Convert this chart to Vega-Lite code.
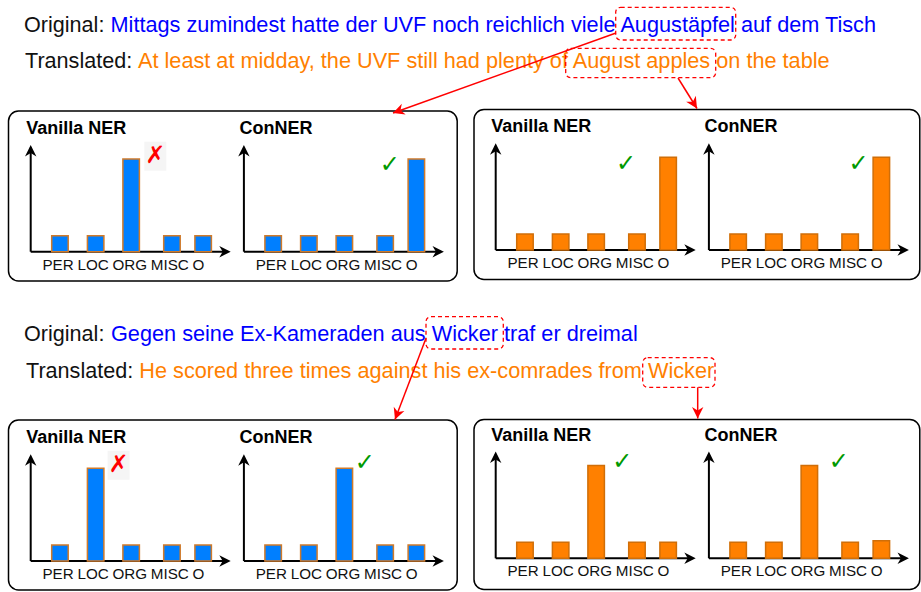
{
  "$schema": "https://vega.github.io/schema/vega-lite/v6.json",
  "width": 921,
  "height": 592,
  "autosize": {"type": "fit", "contains": "padding"},
  "padding": 0,
  "background": "white",
  "config": {"view": {"stroke": null}, "axis": {"disable": true}, "legend": {"disable": true}},
  "datasets": {
    "sentences": [
      {"ex": 1, "lang": "Original", "label": "Original:", "text": "Mittags zumindest hatte der UVF noch reichlich viele Augustäpfel auf dem Tisch", "entity": "Augustäpfel"},
      {"ex": 1, "lang": "Translated", "label": "Translated:", "text": "At least at midday, the UVF still had plenty of August apples on the table", "entity": "August apples"},
      {"ex": 2, "lang": "Original", "label": "Original:", "text": "Gegen seine Ex-Kameraden aus Wicker traf er dreimal", "entity": "Wicker"},
      {"ex": 2, "lang": "Translated", "label": "Translated:", "text": "He scored three times against his ex-comrades from Wicker", "entity": "Wicker"}
    ],
    "panels": [
      {"ex": 1, "lang": "Original", "model": "Vanilla NER", "verdict": "✗"},
      {"ex": 1, "lang": "Original", "model": "ConNER", "verdict": "✓"},
      {"ex": 1, "lang": "Translated", "model": "Vanilla NER", "verdict": "✓"},
      {"ex": 1, "lang": "Translated", "model": "ConNER", "verdict": "✓"},
      {"ex": 2, "lang": "Original", "model": "Vanilla NER", "verdict": "✗"},
      {"ex": 2, "lang": "Original", "model": "ConNER", "verdict": "✓"},
      {"ex": 2, "lang": "Translated", "model": "Vanilla NER", "verdict": "✓"},
      {"ex": 2, "lang": "Translated", "model": "ConNER", "verdict": "✓"}
    ],
    "bars": [
      {"ex": 1, "lang": "Original", "model": "Vanilla NER", "cat": "PER", "value": 1},
      {"ex": 1, "lang": "Original", "model": "Vanilla NER", "cat": "LOC", "value": 1},
      {"ex": 1, "lang": "Original", "model": "Vanilla NER", "cat": "ORG", "value": 5.8},
      {"ex": 1, "lang": "Original", "model": "Vanilla NER", "cat": "MISC", "value": 1},
      {"ex": 1, "lang": "Original", "model": "Vanilla NER", "cat": "O", "value": 1},
      {"ex": 1, "lang": "Original", "model": "ConNER", "cat": "PER", "value": 1},
      {"ex": 1, "lang": "Original", "model": "ConNER", "cat": "LOC", "value": 1},
      {"ex": 1, "lang": "Original", "model": "ConNER", "cat": "ORG", "value": 1},
      {"ex": 1, "lang": "Original", "model": "ConNER", "cat": "MISC", "value": 1},
      {"ex": 1, "lang": "Original", "model": "ConNER", "cat": "O", "value": 5.8},
      {"ex": 1, "lang": "Translated", "model": "Vanilla NER", "cat": "PER", "value": 1},
      {"ex": 1, "lang": "Translated", "model": "Vanilla NER", "cat": "LOC", "value": 1},
      {"ex": 1, "lang": "Translated", "model": "Vanilla NER", "cat": "ORG", "value": 1},
      {"ex": 1, "lang": "Translated", "model": "Vanilla NER", "cat": "MISC", "value": 1},
      {"ex": 1, "lang": "Translated", "model": "Vanilla NER", "cat": "O", "value": 5.8},
      {"ex": 1, "lang": "Translated", "model": "ConNER", "cat": "PER", "value": 1},
      {"ex": 1, "lang": "Translated", "model": "ConNER", "cat": "LOC", "value": 1},
      {"ex": 1, "lang": "Translated", "model": "ConNER", "cat": "ORG", "value": 1},
      {"ex": 1, "lang": "Translated", "model": "ConNER", "cat": "MISC", "value": 1},
      {"ex": 1, "lang": "Translated", "model": "ConNER", "cat": "O", "value": 5.8},
      {"ex": 2, "lang": "Original", "model": "Vanilla NER", "cat": "PER", "value": 1},
      {"ex": 2, "lang": "Original", "model": "Vanilla NER", "cat": "LOC", "value": 5.8},
      {"ex": 2, "lang": "Original", "model": "Vanilla NER", "cat": "ORG", "value": 1},
      {"ex": 2, "lang": "Original", "model": "Vanilla NER", "cat": "MISC", "value": 1},
      {"ex": 2, "lang": "Original", "model": "Vanilla NER", "cat": "O", "value": 1},
      {"ex": 2, "lang": "Original", "model": "ConNER", "cat": "PER", "value": 1},
      {"ex": 2, "lang": "Original", "model": "ConNER", "cat": "LOC", "value": 1},
      {"ex": 2, "lang": "Original", "model": "ConNER", "cat": "ORG", "value": 5.8},
      {"ex": 2, "lang": "Original", "model": "ConNER", "cat": "MISC", "value": 1},
      {"ex": 2, "lang": "Original", "model": "ConNER", "cat": "O", "value": 1},
      {"ex": 2, "lang": "Translated", "model": "Vanilla NER", "cat": "PER", "value": 1},
      {"ex": 2, "lang": "Translated", "model": "Vanilla NER", "cat": "LOC", "value": 1},
      {"ex": 2, "lang": "Translated", "model": "Vanilla NER", "cat": "ORG", "value": 5.8},
      {"ex": 2, "lang": "Translated", "model": "Vanilla NER", "cat": "MISC", "value": 1},
      {"ex": 2, "lang": "Translated", "model": "Vanilla NER", "cat": "O", "value": 1},
      {"ex": 2, "lang": "Translated", "model": "ConNER", "cat": "PER", "value": 1},
      {"ex": 2, "lang": "Translated", "model": "ConNER", "cat": "LOC", "value": 1},
      {"ex": 2, "lang": "Translated", "model": "ConNER", "cat": "ORG", "value": 5.8},
      {"ex": 2, "lang": "Translated", "model": "ConNER", "cat": "MISC", "value": 1},
      {"ex": 2, "lang": "Translated", "model": "ConNER", "cat": "O", "value": 1.1}
    ]
  },
  "layer": [
    {
      "data": {"name": "sentences"},
      "transform": [
        {"calculate": "(datum.ex-1)*2 + (datum.lang=='Original'?0:1)", "as": "si"},
        {"calculate": "datum.lang=='Original' ? 8.5 : 474", "as": "bx1"},
        {"calculate": "datum.lang=='Original' ? 457.2 : 919.8", "as": "bx2"},
        {"calculate": "[111,109.5,420,419.5][datum.si]", "as": "by1"},
        {"calculate": "datum.by1 + 170", "as": "by2"}
      ],
      "mark": {"type": "rect", "filled": false, "stroke": "#000000", "strokeWidth": 1.5, "cornerRadius": 10},
      "encoding": {
        "x": {"field": "bx1", "type": "quantitative", "scale": {"domain": [0, 921], "nice": false, "zero": false}, "axis": null},
        "x2": {"field": "bx2"},
        "y": {"field": "by1", "type": "quantitative", "scale": {"domain": [0, 592], "reverse": true, "nice": false, "zero": false}, "axis": null},
        "y2": {"field": "by2"}
      }
    },
    {
      "data": {"name": "sentences"},
      "transform": [
        {"calculate": "(datum.ex-1)*2 + (datum.lang=='Original'?0:1)", "as": "si"},
        {"calculate": "[31.5,68,341,378.3][datum.si]", "as": "ty"},
        {"calculate": "[24,25,24,26][datum.si]", "as": "lx"}
      ],
      "mark": {"type": "text", "align": "left", "baseline": "alphabetic", "font": "Liberation Sans", "fontSize": 21.6, "color": "#111111"},
      "encoding": {
        "x": {"field": "lx", "type": "quantitative", "scale": {"domain": [0, 921], "nice": false, "zero": false}, "axis": null},
        "y": {"field": "ty", "type": "quantitative", "scale": {"domain": [0, 592], "reverse": true, "nice": false, "zero": false}, "axis": null},
        "text": {"field": "label"}
      }
    },
    {
      "data": {"name": "sentences"},
      "transform": [
        {"calculate": "(datum.ex-1)*2 + (datum.lang=='Original'?0:1)", "as": "si"},
        {"calculate": "[31.5,68,341,378.3][datum.si]", "as": "ty"},
        {"calculate": "[110.5,138,111,139.3][datum.si]", "as": "sx"}
      ],
      "mark": {"type": "text", "align": "left", "baseline": "alphabetic", "font": "Liberation Sans", "fontSize": 21.7},
      "encoding": {
        "x": {"field": "sx", "type": "quantitative", "scale": {"domain": [0, 921], "nice": false, "zero": false}, "axis": null},
        "y": {"field": "ty", "type": "quantitative", "scale": {"domain": [0, 592], "reverse": true, "nice": false, "zero": false}, "axis": null},
        "text": {"field": "text"},
        "color": {"field": "lang", "type": "nominal", "scale": {"domain": ["Original", "Translated"], "range": ["#0000FF", "#FF8000"]}, "legend": null}
      }
    },
    {
      "data": {"name": "sentences"},
      "transform": [
        {"calculate": "(datum.ex-1)*2 + (datum.lang=='Original'?0:1)", "as": "si"},
        {"calculate": "[615.7,565.7,426,642.7][datum.si]", "as": "ex1"},
        {"calculate": "[735.7,715.7,503.3,715][datum.si]", "as": "ex2"},
        {"calculate": "[7.3,48.3,316.7,357.7][datum.si]", "as": "ey1"},
        {"calculate": "[40,77.7,349,387.3][datum.si]", "as": "ey2"}
      ],
      "mark": {"type": "rect", "filled": false, "stroke": "#FF0000", "strokeWidth": 1.3, "strokeDash": [4, 3], "cornerRadius": 5},
      "encoding": {
        "x": {"field": "ex1", "type": "quantitative", "scale": {"domain": [0, 921], "nice": false, "zero": false}, "axis": null},
        "x2": {"field": "ex2"},
        "y": {"field": "ey1", "type": "quantitative", "scale": {"domain": [0, 592], "reverse": true, "nice": false, "zero": false}, "axis": null},
        "y2": {"field": "ey2"}
      }
    },
    {
      "data": {"name": "sentences"},
      "transform": [
        {"calculate": "(datum.ex-1)*2 + (datum.lang=='Original'?0:1)", "as": "si"},
        {"calculate": "[616,678,426,697.7][datum.si]", "as": "ax1"},
        {"calculate": "[33,78,338.3,387.3][datum.si]", "as": "ay1"},
        {"calculate": "[393,697,395,697.7][datum.si]", "as": "ax2"},
        {"calculate": "[113,108.5,419.5,418.5][datum.si]", "as": "ay2"}
      ],
      "mark": {"type": "rule", "stroke": "#FF0000", "strokeWidth": 1.5},
      "encoding": {
        "x": {"field": "ax1", "type": "quantitative", "scale": {"domain": [0, 921], "nice": false, "zero": false}, "axis": null},
        "x2": {"field": "ax2"},
        "y": {"field": "ay1", "type": "quantitative", "scale": {"domain": [0, 592], "reverse": true, "nice": false, "zero": false}, "axis": null},
        "y2": {"field": "ay2"}
      }
    },
    {
      "data": {"name": "sentences"},
      "transform": [
        {"calculate": "(datum.ex-1)*2 + (datum.lang=='Original'?0:1)", "as": "si"},
        {"calculate": "[616,678,426,697.7][datum.si]", "as": "ax1"},
        {"calculate": "[33,78,338.3,387.3][datum.si]", "as": "ay1"},
        {"calculate": "[393,697,395,697.7][datum.si]", "as": "ax2"},
        {"calculate": "[113,108.5,419.5,418.5][datum.si]", "as": "ay2"},
        {"calculate": "atan2(datum.ay2-datum.ay1, datum.ax2-datum.ax1)*180/PI", "as": "ang"}
      ],
      "mark": {"type": "point", "shape": "M0,0L-2,-1L-1.4,0L-2,1Z", "filled": true, "fill": "#FF0000", "opacity": 1, "size": 130, "strokeWidth": 0},
      "encoding": {
        "x": {"field": "ax2", "type": "quantitative", "scale": {"domain": [0, 921], "nice": false, "zero": false}, "axis": null},
        "y": {"field": "ay2", "type": "quantitative", "scale": {"domain": [0, 592], "reverse": true, "nice": false, "zero": false}, "axis": null},
        "angle": {"field": "ang", "type": "quantitative", "scale": null}
      }
    },
    {
      "data": {"name": "panels"},
      "transform": [
        {"calculate": "(datum.lang=='Original'?30.7:495.7) + (datum.model=='ConNER'?213.2:0)", "as": "px0"},
        {"calculate": "datum.ex==1 ? (datum.lang=='Original'?251.7:250) : (datum.lang=='Original'?561:558.3)", "as": "py0"},
        {"calculate": "datum.py0 - 104", "as": "ytop"}
      ],
      "mark": {"type": "rule", "stroke": "#000000", "strokeWidth": 2},
      "encoding": {
        "x": {"field": "px0", "type": "quantitative", "scale": {"domain": [0, 921], "nice": false, "zero": false}, "axis": null},
        "y": {"field": "py0", "type": "quantitative", "scale": {"domain": [0, 592], "reverse": true, "nice": false, "zero": false}, "axis": null},
        "y2": {"field": "ytop"}
      }
    },
    {
      "data": {"name": "panels"},
      "transform": [
        {"calculate": "(datum.lang=='Original'?30.7:495.7) + (datum.model=='ConNER'?213.2:0)", "as": "px0"},
        {"calculate": "datum.ex==1 ? (datum.lang=='Original'?251.7:250) : (datum.lang=='Original'?561:558.3)", "as": "py0"},
        {"calculate": "datum.px0 + 197", "as": "xend"}
      ],
      "mark": {"type": "rule", "stroke": "#000000", "strokeWidth": 2},
      "encoding": {
        "x": {"field": "px0", "type": "quantitative", "scale": {"domain": [0, 921], "nice": false, "zero": false}, "axis": null},
        "x2": {"field": "xend"},
        "y": {"field": "py0", "type": "quantitative", "scale": {"domain": [0, 592], "reverse": true, "nice": false, "zero": false}, "axis": null}
      }
    },
    {
      "data": {"name": "panels"},
      "transform": [
        {"calculate": "(datum.lang=='Original'?30.7:495.7) + (datum.model=='ConNER'?213.2:0)", "as": "px0"},
        {"calculate": "datum.ex==1 ? (datum.lang=='Original'?251.7:250) : (datum.lang=='Original'?561:558.3)", "as": "py0"},
        {"calculate": "datum.py0 - 106.7", "as": "ytip"}
      ],
      "mark": {"type": "point", "shape": "M0,0L-2,-1L-1.4,0L-2,1Z", "filled": true, "fill": "#000000", "opacity": 1, "size": 130, "strokeWidth": 0, "angle": 270},
      "encoding": {
        "x": {"field": "px0", "type": "quantitative", "scale": {"domain": [0, 921], "nice": false, "zero": false}, "axis": null},
        "y": {"field": "ytip", "type": "quantitative", "scale": {"domain": [0, 592], "reverse": true, "nice": false, "zero": false}, "axis": null}
      }
    },
    {
      "data": {"name": "panels"},
      "transform": [
        {"calculate": "(datum.lang=='Original'?30.7:495.7) + (datum.model=='ConNER'?213.2:0)", "as": "px0"},
        {"calculate": "datum.ex==1 ? (datum.lang=='Original'?251.7:250) : (datum.lang=='Original'?561:558.3)", "as": "py0"},
        {"calculate": "datum.px0 + 200", "as": "xtip"}
      ],
      "mark": {"type": "point", "shape": "M0,0L-2,-1L-1.4,0L-2,1Z", "filled": true, "fill": "#000000", "opacity": 1, "size": 130, "strokeWidth": 0},
      "encoding": {
        "x": {"field": "xtip", "type": "quantitative", "scale": {"domain": [0, 921], "nice": false, "zero": false}, "axis": null},
        "y": {"field": "py0", "type": "quantitative", "scale": {"domain": [0, 592], "reverse": true, "nice": false, "zero": false}, "axis": null}
      }
    },
    {
      "data": {"name": "panels"},
      "transform": [
        {"calculate": "(datum.lang=='Original'?30.7:495.7) + (datum.model=='ConNER'?213.2:0)", "as": "px0"},
        {"calculate": "datum.ex==1 ? (datum.lang=='Original'?251.7:250) : (datum.lang=='Original'?561:558.3)", "as": "py0"},
        {"calculate": "datum.px0 - 4.5", "as": "tx"},
        {"calculate": "datum.py0 - 117.8", "as": "ty"}
      ],
      "mark": {"type": "text", "align": "left", "baseline": "alphabetic", "font": "Liberation Sans", "fontSize": 18, "fontWeight": "bold", "color": "#000000"},
      "encoding": {
        "x": {"field": "tx", "type": "quantitative", "scale": {"domain": [0, 921], "nice": false, "zero": false}, "axis": null},
        "y": {"field": "ty", "type": "quantitative", "scale": {"domain": [0, 592], "reverse": true, "nice": false, "zero": false}, "axis": null},
        "text": {"field": "model"}
      }
    },
    {
      "data": {"name": "bars"},
      "transform": [
        {"calculate": "(datum.lang=='Original'?30.7:495.7) + (datum.model=='ConNER'?213.2:0)", "as": "px0"},
        {"calculate": "datum.ex==1 ? (datum.lang=='Original'?251.7:250) : (datum.lang=='Original'?561:558.3)", "as": "py0"},
        {"calculate": "indexof(['PER','LOC','ORG','MISC','O'], datum.cat)", "as": "ci"},
        {"calculate": "datum.px0 + [21,56.7,92.2,133,164.2][datum.ci]", "as": "bx"},
        {"calculate": "datum.bx + 16.5", "as": "bx2"},
        {"calculate": "datum.py0 - datum.value*16", "as": "by"}
      ],
      "mark": {"type": "rect", "strokeWidth": 1.5},
      "encoding": {
        "x": {"field": "bx", "type": "quantitative", "scale": {"domain": [0, 921], "nice": false, "zero": false}, "axis": null},
        "x2": {"field": "bx2"},
        "y": {"field": "py0", "type": "quantitative", "scale": {"domain": [0, 592], "reverse": true, "nice": false, "zero": false}, "axis": null},
        "y2": {"field": "by"},
        "fill": {"field": "lang", "type": "nominal", "scale": {"domain": ["Original", "Translated"], "range": ["#007FFF", "#FF8000"]}, "legend": null},
        "stroke": {"field": "lang", "type": "nominal", "scale": {"domain": ["Original", "Translated"], "range": ["#D07A2A", "#D06E08"]}, "legend": null}
      }
    },
    {
      "data": {"name": "bars"},
      "transform": [
        {"calculate": "(datum.lang=='Original'?30.7:495.7) + (datum.model=='ConNER'?213.2:0)", "as": "px0"},
        {"calculate": "datum.ex==1 ? (datum.lang=='Original'?251.7:250) : (datum.lang=='Original'?561:558.3)", "as": "py0"},
        {"calculate": "indexof(['PER','LOC','ORG','MISC','O'], datum.cat)", "as": "ci"},
        {"calculate": "datum.px0 + [27.4,62.4,99.1,139.1,167.8][datum.ci]", "as": "lx"},
        {"calculate": "datum.py0 + 18", "as": "ly"}
      ],
      "mark": {"type": "text", "align": "center", "baseline": "alphabetic", "font": "Liberation Sans", "fontSize": 15.2, "color": "#111111"},
      "encoding": {
        "x": {"field": "lx", "type": "quantitative", "scale": {"domain": [0, 921], "nice": false, "zero": false}, "axis": null},
        "y": {"field": "ly", "type": "quantitative", "scale": {"domain": [0, 592], "reverse": true, "nice": false, "zero": false}, "axis": null},
        "text": {"field": "cat"}
      }
    },
    {
      "data": {"name": "panels"},
      "transform": [
        {"filter": "datum.verdict == '✗'"},
        {"calculate": "(datum.ex-1)*4 + (datum.lang=='Original'?0:2) + (datum.model=='ConNER'?1:0)", "as": "pi"},
        {"calculate": "(datum.lang=='Original'?30.7:495.7) + (datum.model=='ConNER'?213.2:0)", "as": "px0"},
        {"calculate": "datum.ex==1 ? (datum.lang=='Original'?251.7:250) : (datum.lang=='Original'?561:558.3)", "as": "py0"},
        {"calculate": "datum.px0 + [124.6,146,130.3,149.6,87.9,121,126.6,129.8][datum.pi]", "as": "vx"},
        {"calculate": "datum.py0 + [-95.5,-86.7,-86,-86,-95.7,-97.7,-96,-96][datum.pi]", "as": "vy"},
        {"calculate": "datum.vx - 11", "as": "rx1"},
        {"calculate": "datum.vx + 11", "as": "rx2"},
        {"calculate": "datum.vy - 14.5", "as": "ry1"},
        {"calculate": "datum.vy + 14.5", "as": "ry2"}
      ],
      "mark": {"type": "rect", "fill": "#F5F5F5", "strokeWidth": 0},
      "encoding": {
        "x": {"field": "rx1", "type": "quantitative", "scale": {"domain": [0, 921], "nice": false, "zero": false}, "axis": null},
        "x2": {"field": "rx2"},
        "y": {"field": "ry1", "type": "quantitative", "scale": {"domain": [0, 592], "reverse": true, "nice": false, "zero": false}, "axis": null},
        "y2": {"field": "ry2"}
      }
    },
    {
      "data": {"name": "panels"},
      "transform": [
        {"calculate": "(datum.ex-1)*4 + (datum.lang=='Original'?0:2) + (datum.model=='ConNER'?1:0)", "as": "pi"},
        {"calculate": "(datum.lang=='Original'?30.7:495.7) + (datum.model=='ConNER'?213.2:0)", "as": "px0"},
        {"calculate": "datum.ex==1 ? (datum.lang=='Original'?251.7:250) : (datum.lang=='Original'?561:558.3)", "as": "py0"},
        {"calculate": "datum.px0 + [124.6,146,130.3,149.6,87.9,121,126.6,129.8][datum.pi]", "as": "vx"},
        {"calculate": "datum.py0 + [-95.5,-86.7,-86,-86,-95.7,-97.7,-96,-96][datum.pi]", "as": "vy"}
      ],
      "mark": {"type": "text", "align": "center", "baseline": "middle", "font": "DejaVu Sans", "fontSize": 24},
      "encoding": {
        "x": {"field": "vx", "type": "quantitative", "scale": {"domain": [0, 921], "nice": false, "zero": false}, "axis": null},
        "y": {"field": "vy", "type": "quantitative", "scale": {"domain": [0, 592], "reverse": true, "nice": false, "zero": false}, "axis": null},
        "text": {"field": "verdict"},
        "color": {"field": "verdict", "type": "nominal", "scale": {"domain": ["✓", "✗"], "range": ["#009900", "#FF0000"]}, "legend": null}
      }
    }
  ],
  "resolve": {"scale": {"color": "independent"}}
}
